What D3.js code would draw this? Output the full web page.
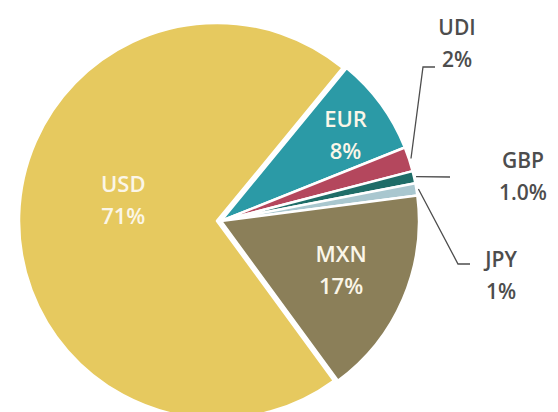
<!DOCTYPE html>
<html>
<head>
<meta charset="utf-8">
<script src="https://cdn.jsdelivr.net/npm/d3@7"></script>
<style>
  html, body { margin: 0; padding: 0; background: #fff; }
  svg { display: block; font-family: "Open Sans", sans-serif; }
</style>
</head>
<body>
<svg id="chart" width="558" height="412"></svg>
<script>
// data
const currencies = ['EUR', 'UDI', 'GBP', 'JPY', 'MXN', 'USD'];
const shares     = [8, 2, 1.0, 1, 17, 71];
const shareText  = ['8%', '2%', '1.0%', '1%', '17%', '71%'];

// styles / layout
const colors = {
    EUR: '#2b9aa6', UDI: '#b4475d', GBP: '#1f6d68',
    JPY: '#a9c7cf', MXN: '#8b7f59', USD: '#e6c95f'
};
const WIDTH = 558, HEIGHT = 412;
const cx = 221, cy = 221, radius = 198;
const startDeg = 39.4;
const lineGap = 32;
// labels drawn inside the slice: polar position of the first baseline (radius, degrees clockwise from 12 o'clock)
const insideLabels = {
    EUR: { r: 156, a: 53 },
    MXN: { r: 127, a: 109 },
    USD: { r: 98, a: 287 }
};
// labels outside with leader lines, offsets relative to pie centre (text: first baseline)
const outsideLabels = {
    UDI: { pts: [[202, -154], [214, -154]], text: [236, -186] },
    GBP: { pts: [[229, -44]], text: [302, -53] },
    JPY: { pts: [[237, 43], [249, 43]], text: [280, 46] }
};
const explode = { USD: 4 };

const rad = d => d * Math.PI / 180;
const polar = (r, a) => [r * Math.sin(a), -r * Math.cos(a)];

const data = currencies.map((c, i) => ({ key: c, value: shares[i], label: shareText[i] }));

const pie = d3.pie()
    .sort(null)
    .value(d => d.value)
    .startAngle(rad(startDeg))
    .endAngle(rad(startDeg) + 2 * Math.PI);

const arc = d3.arc().innerRadius(0).outerRadius(radius);

const svg = d3.select('#chart');
svg.append('rect').attr('width', WIDTH).attr('height', HEIGHT).attr('fill', '#fff');

const g = svg.append('g').attr('transform', `translate(${cx},${cy})`);

const arcs = pie(data);

// slices
g.selectAll('.slice')
    .data(arcs)
    .enter().append('path')
    .attr('class', 'slice')
    .attr('d', arc)
    .attr('fill', d => colors[d.data.key])
    .attr('stroke', '#fff')
    .attr('stroke-width', 2.5)
    .attr('stroke-linejoin', 'round')
    .attr('transform', d => {
        const off = explode[d.data.key] || 0;
        const [x, y] = polar(off, (d.startAngle + d.endAngle) / 2);
        return `translate(${x},${y})`;
    });

// two-line label helper: name on first baseline, value one line below
function twoLines(x, y, d, fill, size) {
    const t = g.append('text')
        .attr('text-anchor', 'middle')
        .attr('fill', fill)
        .attr('font-size', size)
        .attr('font-weight', 600);
    t.append('tspan').attr('x', x).attr('y', y).text(d.data.key);
    t.append('tspan').attr('x', x).attr('y', y + lineGap).text(d.data.label);
}

// inside labels
arcs.filter(d => insideLabels[d.data.key]).forEach(d => {
    const p = insideLabels[d.data.key];
    const off = explode[d.data.key] || 0;
    const [ox, oy] = polar(off, (d.startAngle + d.endAngle) / 2);
    const [x, y] = polar(p.r, rad(p.a));
    twoLines(x + ox, y + oy, d, '#fbf6e8', 22);
});

// outside labels with leader lines
arcs.filter(d => outsideLabels[d.data.key]).forEach(d => {
    const o = outsideLabels[d.data.key];
    const start = polar(radius + 2, (d.startAngle + d.endAngle) / 2);
    g.append('path')
        .attr('d', d3.line()([start, ...o.pts]))
        .attr('fill', 'none')
        .attr('stroke', '#4d4d4d')
        .attr('stroke-width', 1.3);
    twoLines(o.text[0], o.text[1], d, '#4d4d4d', 21);
});
</script>
</body>
</html>
